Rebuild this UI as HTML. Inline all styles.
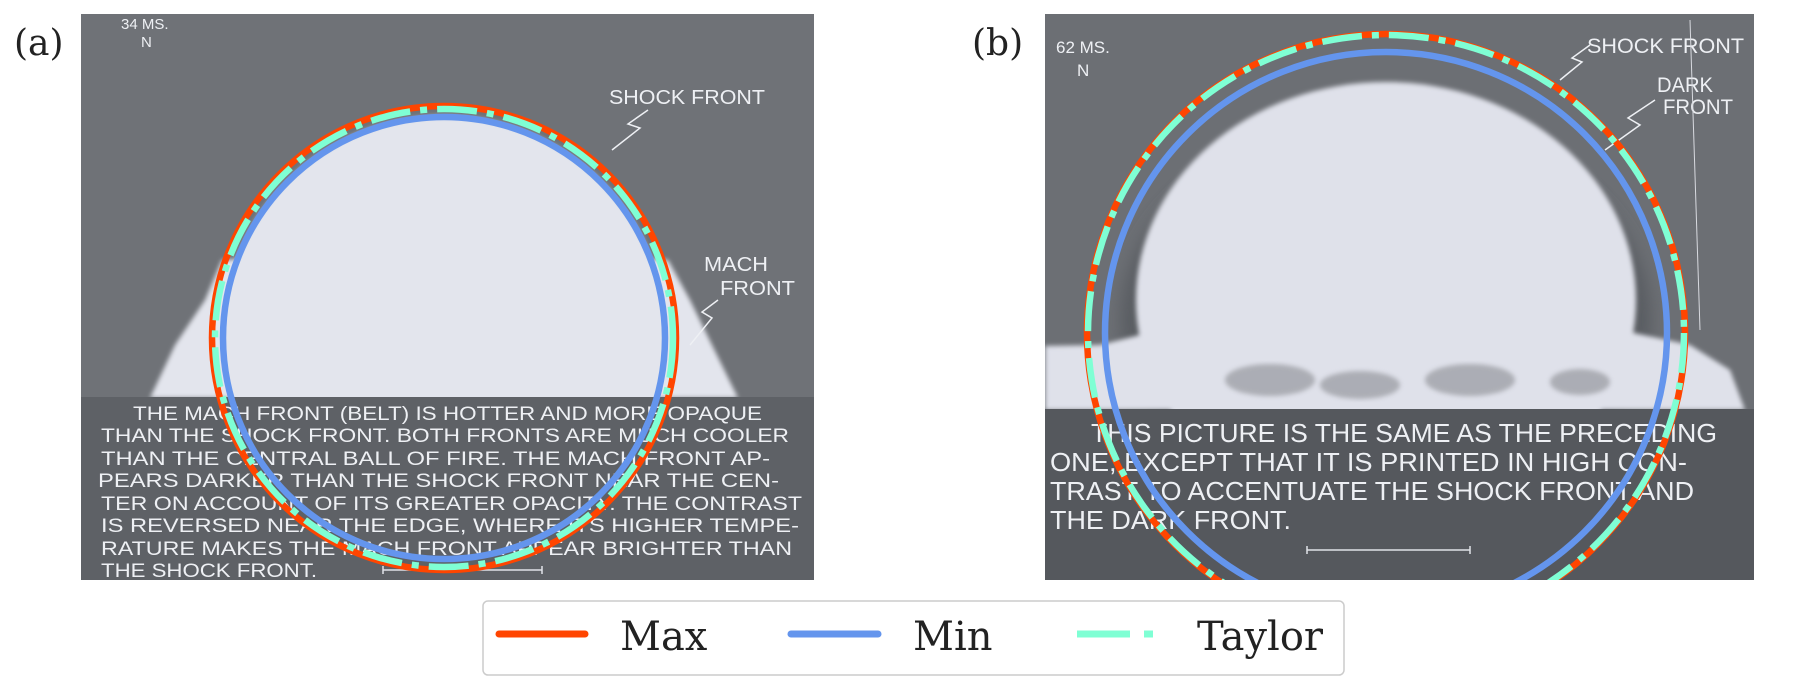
<!DOCTYPE html>
<html><head><meta charset="utf-8"><style>
html,body{margin:0;padding:0;background:#fff;}
svg{display:block;}
.cap{font-family:"Liberation Sans",sans-serif;fill:#eef0f4;}
.lab{font-family:"DejaVu Serif","Liberation Serif",serif;fill:#222;}
</style></head><body>
<svg id="fig" width="1810" height="690" viewBox="0 0 1810 690" xmlns="http://www.w3.org/2000/svg">
<defs>
<clipPath id="clipA"><rect x="81" y="14" width="733" height="566"/></clipPath>
<clipPath id="clipB"><rect x="1045" y="14" width="709" height="566"/></clipPath>
<filter id="blur6"><feGaussianBlur stdDeviation="8"/></filter>
<filter id="blur3"><feGaussianBlur stdDeviation="2.5"/></filter>
</defs>

<!-- Panel A photo -->
<g>
<rect x="81" y="14" width="733" height="384" fill="#6f7277"/>
<rect x="81" y="398" width="733" height="182" fill="#5e6166"/>
<g clip-path="url(#clipA)" filter="url(#blur3)">
<circle cx="444" cy="338" r="222" fill="#e3e5ed"/>
<polygon points="150,398 175,345 205,300 222,260 444,250 668,260 690,300 712,345 738,398" fill="#e3e5ed"/>
</g>
<rect x="81" y="397" width="733" height="183" fill="#5e6166"/>
<g class="cap" font-size="19">
<text x="121" y="29" font-size="15">34 MS.</text>
<text x="141" y="47" font-size="15">N</text>
<text x="609" y="104" font-size="20" textLength="156" lengthAdjust="spacingAndGlyphs">SHOCK FRONT</text>
<text x="704" y="271" font-size="20" textLength="64" lengthAdjust="spacingAndGlyphs">MACH</text>
<text x="720" y="295" font-size="20" textLength="75" lengthAdjust="spacingAndGlyphs">FRONT</text>
<g>
<text x="133" y="420" textLength="629" lengthAdjust="spacingAndGlyphs">THE MACH FRONT (BELT) IS HOTTER AND MORE OPAQUE</text>
<text x="101" y="442" textLength="688" lengthAdjust="spacingAndGlyphs">THAN THE SHOCK FRONT. BOTH FRONTS ARE MUCH COOLER</text>
<text x="101" y="465" textLength="669" lengthAdjust="spacingAndGlyphs">THAN THE CENTRAL BALL OF FIRE. THE MACH FRONT AP-</text>
<text x="98" y="487" textLength="681" lengthAdjust="spacingAndGlyphs">PEARS DARKER THAN THE SHOCK FRONT NEAR THE CEN-</text>
<text x="101" y="510" textLength="701" lengthAdjust="spacingAndGlyphs">TER ON ACCOUNT OF ITS GREATER OPACITY. THE CONTRAST</text>
<text x="101" y="532" textLength="698" lengthAdjust="spacingAndGlyphs">IS REVERSED NEAR THE EDGE, WHERE ITS HIGHER TEMPE-</text>
<text x="101" y="555" textLength="691" lengthAdjust="spacingAndGlyphs">RATURE MAKES THE MACH FRONT APPEAR BRIGHTER THAN</text>
<text x="101" y="577" textLength="216" lengthAdjust="spacingAndGlyphs">THE SHOCK FRONT.</text>
</g>
</g>
<path d="M383 570 H542 M383 566 V574 M542 566 V574" stroke="#e0e2e8" stroke-width="1.5" fill="none"/>
<path d="M648 110 L628 124 L640 128 L612 150" stroke="#eef0f4" stroke-width="1.5" fill="none"/>
<path d="M718 300 L702 312 L712 318 L690 345" stroke="#eef0f4" stroke-width="1.5" fill="none"/>
</g>

<!-- Panel B photo -->
<g>
<rect x="1045" y="14" width="709" height="396" fill="#6c6f74"/>
<rect x="1045" y="410" width="709" height="170" fill="#55585d"/>
<g clip-path="url(#clipB)">
<ellipse cx="1386" cy="320" rx="265" ry="200" fill="#55585d" filter="url(#blur6)" opacity="0.8"/>
<g filter="url(#blur3)">
<ellipse cx="1386" cy="300" rx="250" ry="218" fill="#dfe1ea"/>
<polygon points="1045,346 1100,345 1160,330 1620,330 1690,345 1730,370 1745,410 1045,410" fill="#dfe1ea"/>
</g>
<g fill="#8a8c92" opacity="0.6" filter="url(#blur3)">
<ellipse cx="1270" cy="380" rx="45" ry="16"/>
<ellipse cx="1360" cy="385" rx="40" ry="14"/>
<ellipse cx="1470" cy="380" rx="45" ry="16"/>
<ellipse cx="1580" cy="382" rx="30" ry="13"/>
</g>
</g>
<rect x="1045" y="409" width="709" height="171" fill="#55585d"/>
<g class="cap" font-size="26">
<text x="1056" y="53" font-size="17">62 MS.</text>
<text x="1077" y="76" font-size="17">N</text>
<text x="1587" y="53" font-size="21" textLength="157" lengthAdjust="spacingAndGlyphs">SHOCK FRONT</text>
<text x="1657" y="92" font-size="21" textLength="56" lengthAdjust="spacingAndGlyphs">DARK</text>
<text x="1663" y="114" font-size="21" textLength="70" lengthAdjust="spacingAndGlyphs">FRONT</text>
<g>
<text x="1091" y="442" textLength="626" lengthAdjust="spacingAndGlyphs">THIS PICTURE IS THE SAME AS THE PRECEDING</text>
<text x="1050" y="471" textLength="637" lengthAdjust="spacingAndGlyphs">ONE, EXCEPT THAT IT IS PRINTED IN HIGH CON-</text>
<text x="1050" y="500" textLength="644" lengthAdjust="spacingAndGlyphs">TRAST TO ACCENTUATE THE SHOCK FRONT AND</text>
<text x="1050" y="529" textLength="241" lengthAdjust="spacingAndGlyphs">THE DARK FRONT.</text>
</g>
</g>
<path d="M1307 550 H1470 M1307 546 V554 M1470 546 V554" stroke="#e0e2e8" stroke-width="1.5" fill="none"/>
<path d="M1590 45 L1572 58 L1582 62 L1560 80" stroke="#eef0f4" stroke-width="1.5" fill="none"/>
<path d="M1655 100 L1628 118 L1640 125 L1605 150" stroke="#eef0f4" stroke-width="1.5" fill="none"/>
<path d="M1690 20 L1700 330" stroke="#d8dae0" stroke-width="1" fill="none"/>
</g>

<g id="circlesA" clip-path="url(#clipA)"></g>
<g id="circlesB" clip-path="url(#clipB)"></g>

<text class="lab" x="14" y="55" font-size="36">(a)</text>
<text class="lab" x="972" y="55" font-size="36">(b)</text>

<g>
<rect x="483" y="601" width="861" height="74" rx="5" fill="#fff" stroke="#cccccc" stroke-width="1.5"/>
<line x1="499" y1="634" x2="585" y2="634" stroke="#ff4500" stroke-width="7" stroke-linecap="round"/>
<text class="lab" x="620" y="650" font-size="40">Max</text>
<line x1="791" y1="634" x2="878" y2="634" stroke="#6495ed" stroke-width="7" stroke-linecap="round"/>
<text class="lab" x="913" y="650" font-size="40">Min</text>
<line x1="1077" y1="634" x2="1153" y2="634" stroke="#7fffd4" stroke-width="7" stroke-dasharray="53,14,9,100"/>
<text class="lab" x="1197" y="650" font-size="40">Taylor</text>
</g>
</svg>
<script>
// Blast radius (m) per panel: (a) 34 ms, (b) 62 ms
const panels = ["a", "b"];
const maxRadius = [116, 149.5];
const minRadius = [110.5, 140.5];
const taylorRadius = [114.5, 149];
const pxPerM = 2.0;
const centers = [[444, 338], [1386, 333]];
const NS = "http://www.w3.org/2000/svg";
function r(v) { return v * pxPerM; }
function ring(g, cx, cy, rad, color, dash) {
  const c = document.createElementNS(NS, "circle");
  c.setAttribute("cx", cx); c.setAttribute("cy", cy); c.setAttribute("r", r(rad));
  c.setAttribute("fill", "none"); c.setAttribute("stroke", color);
  c.setAttribute("stroke-width", 6.5);
  if (dash) c.setAttribute("stroke-dasharray", dash);
  g.appendChild(c);
  return c;
}
panels.forEach(function (p, i) {
  const g = document.getElementById(p === "a" ? "circlesA" : "circlesB");
  const cx = centers[i][0], cy = centers[i][1];
  const m = ring(g, cx, cy, maxRadius[i], "#ff4500", null);
  
  
  const n = ring(g, cx, cy, minRadius[i], "#6495ed", null);
  
  
  const t = ring(g, cx, cy, taylorRadius[i], "#7fffd4", "40,10,7,10");
  
  
});
</script>
</body></html>
